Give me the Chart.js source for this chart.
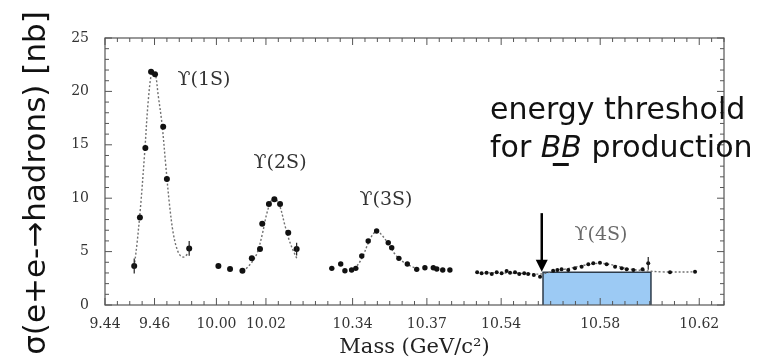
<!DOCTYPE html>
<html>
<head>
<meta charset="utf-8">
<script src="https://cdn.jsdelivr.net/npm/chart.js@4.4.1/dist/chart.umd.min.js"></script>
<style>
html,body{margin:0;padding:0;background:#fff;}
</style>
</head>
<body>
<canvas id="c" width="769" height="362"></canvas>
<script>
// measured points (mass in GeV, sigma in nb)
const mass1S  = [9.4518, 9.4541, 9.4563, 9.4586, 9.4602, 9.4635, 9.4650, 9.4740];
const sigma1S = [3.65, 8.2, 14.7, 21.85, 21.6, 16.7, 11.8, 5.3];
const err1S   = [0.7, 0, 0, 0, 0, 0, 0, 0.7];

const mass2S  = [10.0008, 10.0055, 10.0105, 10.0143, 10.0176, 10.0185, 10.0212, 10.0234, 10.0257, 10.0290, 10.0324];
const sigma2S = [3.65, 3.37, 3.2, 4.37, 5.24, 7.6, 9.46, 9.9, 9.46, 6.77, 5.24];
const err2S   = [0, 0, 0, 0, 0, 0, 0, 0, 0, 0, 0.6];

const mass3S  = [10.3316, 10.3352, 10.3369, 10.3396, 10.3413, 10.3437, 10.3463, 10.3497, 10.3544, 10.3558,
                 10.3587, 10.3621, 10.3659, 10.3692, 10.3726, 10.3740, 10.3764, 10.3793];
const sigma3S = [3.43, 3.84, 3.2, 3.28, 3.43, 4.59, 5.99, 6.93, 5.83, 5.37,
                 4.37, 3.84, 3.34, 3.49, 3.49, 3.37, 3.28, 3.28];

const mass4S  = [10.5303, 10.5321, 10.5341, 10.5362, 10.5382, 10.5402, 10.5422, 10.5436, 10.5456, 10.5473,
                 10.5493, 10.5509, 10.5532, 10.5557, 10.5610, 10.5627, 10.5644, 10.5671, 10.5698, 10.5725,
                 10.5752, 10.5772, 10.5799, 10.5826, 10.5860, 10.5887, 10.5907, 10.5934, 10.5971, 10.5994,
                 10.6082, 10.6183];
const sigma4S = [3.06, 2.97, 3.02, 2.90, 3.06, 2.97, 3.18, 3.02, 3.06, 2.90,
                 2.97, 2.90, 2.81, 2.65, 3.21, 3.28, 3.34, 3.28, 3.43, 3.59,
                 3.81, 3.90, 3.96, 3.81, 3.59, 3.43, 3.34, 3.28, 3.34, 3.90,
                 3.06, 3.12];
const err4S   = sigma4S.map((v,i)=> i===29 ? 0.6 : 0);

// dashed fit curves
const fitMass1S  = [9.4518, 9.4530, 9.4545, 9.4560, 9.4575, 9.4590, 9.4602, 9.4615, 9.4630, 9.4645, 9.4660, 9.4675, 9.4690, 9.4705, 9.4720, 9.4738];
const fitSigma1S = [3.6, 5.9, 9.6, 14.2, 19.2, 21.9, 21.8, 19.6, 17.0, 13.2, 9.5, 6.8, 5.3, 4.6, 4.5, 4.9];
const fitMass2S  = [10.0120, 10.0143, 10.0165, 10.0185, 10.0205, 10.0225, 10.0240, 10.0257, 10.0275, 10.0292, 10.0310, 10.0326];
const fitSigma2S = [3.4, 4.0, 4.9, 6.6, 8.7, 9.9, 9.9, 9.2, 7.6, 6.2, 5.1, 4.3];
const fitMass3S  = [10.3390, 10.3415, 10.3440, 10.3465, 10.3485, 10.3500, 10.3520, 10.3545, 10.3570, 10.3595, 10.3620, 10.3650];
const fitSigma3S = [3.3, 3.6, 4.5, 5.9, 6.7, 6.9, 6.5, 5.7, 4.8, 4.2, 3.8, 3.5];
const fitMass4S  = [10.5300, 10.5400, 10.5500, 10.5560, 10.5620, 10.5680, 10.5740, 10.5790, 10.5840, 10.5900, 10.5960, 10.6050, 10.6190];
const fitSigma4S = [3.0, 3.0, 2.95, 2.9, 3.2, 3.45, 3.75, 3.9, 3.8, 3.45, 3.25, 3.1, 3.1];

// BB threshold box
const boxMass  = [10.5569, 10.6005];
const boxSigma = 3.06;
const thresholdMass = 10.5564;

// axis
const tickMass   = [9.44, 9.46, 10.00, 10.02, 10.34, 10.37, 10.54, 10.58, 10.62];
const tickLabels = ["9.44", "9.46", "10.00", "10.02", "10.34", "10.37", "10.54", "10.58", "10.62"];
const peakLabels = ["\u03D2(1S)", "\u03D2(2S)", "\u03D2(3S)", "\u03D2(4S)"];
const peakMass   = [9.480, 10.0257, 10.3535, 10.5803];
const peakSigma  = [21.1, 13.3, 9.8, 6.55];

// broken mass axis: each segment keeps its own origin
const SEG_START  = [9.44, 10.00, 10.34, 10.54];
const SEG_OFFSET = [0, 0.045, 0.100, 0.160];
function axisPos(m){
  const k = m < 9.8 ? 0 : m < 10.2 ? 1 : m < 10.45 ? 2 : 3;
  return m - SEG_START[k] + SEG_OFFSET[k];
}
const pts = (ms, vs) => ms.map((m,i)=>({x:axisPos(m), y:vs[i]}));

const pointSet = (ms, vs, errs, r) => ({
  data: pts(ms, vs), errs: errs, showLine:false,
  pointRadius:r, pointBackgroundColor:"#111", pointBorderWidth:0, order:0
});
const fitSet = (ms, vs) => ({
  data: pts(ms, vs), showLine:true, pointRadius:0, borderColor:"#707070",
  borderWidth:1.4, borderDash:[2,2], tension:0.35, order:5
});

const overlay = {
  id:"overlay",
  afterDatasetsDraw(chart){
    const {ctx, chartArea:a, scales:{x, y}} = chart;
    ctx.save();
    // error bars
    chart.data.datasets.forEach(ds=>{
      if(!ds.errs) return;
      ds.data.forEach((p,i)=>{
        const e = ds.errs[i];
        if(!e) return;
        const px = x.getPixelForValue(p.x);
        ctx.strokeStyle = "#222"; ctx.lineWidth = 1.2;
        ctx.beginPath();
        ctx.moveTo(px, y.getPixelForValue(p.y - e));
        ctx.lineTo(px, y.getPixelForValue(p.y + e));
        ctx.stroke();
      });
    });
    // frame
    ctx.strokeStyle = "#555"; ctx.lineWidth = 1.2;
    ctx.strokeRect(a.left, a.top, a.right - a.left, a.bottom - a.top);
    // inward ticks
    ctx.lineWidth = 1;
    const majors = tickMass.map(m=>Math.round(axisPos(m)*1000));
    for(let k=0;k<=50;k++){
      const v = k*0.005;
      const px = x.getPixelForValue(v);
      const len = majors.includes(Math.round(v*1000)) ? 7 : 4;
      ctx.beginPath();
      ctx.moveTo(px, a.bottom); ctx.lineTo(px, a.bottom - len);
      ctx.moveTo(px, a.top); ctx.lineTo(px, a.top + len);
      ctx.stroke();
    }
    for(let v=0; v<=25; v++){
      const py = y.getPixelForValue(v);
      const len = v % 5 === 0 ? 7 : 4;
      ctx.beginPath();
      ctx.moveTo(a.left, py); ctx.lineTo(a.left + len, py);
      ctx.moveTo(a.right, py); ctx.lineTo(a.right - len, py);
      ctx.stroke();
    }
    // peak labels
    ctx.font = '19px "DejaVu Serif"';
    ctx.textAlign = "center"; ctx.textBaseline = "middle";
    peakLabels.forEach((t,i)=>{
      ctx.fillStyle = i === 3 ? "#6a6a6a" : "#333";
      ctx.fillText(t, x.getPixelForValue(axisPos(peakMass[i])), y.getPixelForValue(peakSigma[i]));
    });
    // threshold arrow
    const ax = x.getPixelForValue(axisPos(thresholdMass));
    const y0 = y.getPixelForValue(8.6), y1 = y.getPixelForValue(boxSigma + 0.05);
    ctx.strokeStyle = "#000"; ctx.fillStyle = "#000"; ctx.lineWidth = 2.5;
    ctx.beginPath(); ctx.moveTo(ax, y0); ctx.lineTo(ax, y1 - 10); ctx.stroke();
    ctx.beginPath(); ctx.moveTo(ax - 6, y1 - 12); ctx.lineTo(ax + 6, y1 - 12); ctx.lineTo(ax, y1); ctx.closePath(); ctx.fill();
    // annotation text
    ctx.textAlign = "left"; ctx.textBaseline = "alphabetic"; ctx.fillStyle = "#111";
    ctx.font = '30px "DejaVu Sans"';
    ctx.fillText("energy threshold", 490, 119);
    let tx = 490;
    ctx.fillText("for ", tx, 157); tx += ctx.measureText("for ").width;
    ctx.font = 'italic 30px "DejaVu Sans"';
    ctx.fillText("BB", tx, 157);
    ctx.fillRect(tx + 12, 163, 16, 3);
    tx += ctx.measureText("BB").width;
    ctx.font = '30px "DejaVu Sans"';
    ctx.fillText(" production", tx, 157);
    // y title
    ctx.save();
    ctx.translate(37, 183); ctx.rotate(-Math.PI/2);
    ctx.textAlign = "center"; ctx.textBaseline = "middle";
    ctx.font = '31px "DejaVu Sans"'; ctx.fillStyle = "#111";
    ctx.fillText("\u03C3(e+e-\u2192hadrons) [nb]", 0, 0);
    ctx.restore();
    ctx.restore();
  }
};

new Chart(document.getElementById("c"), {
  type:"scatter",
  data:{
    datasets:[
      {
        data:[{x:axisPos(boxMass[0]),y:0},{x:axisPos(boxMass[0]),y:boxSigma},
              {x:axisPos(boxMass[1]),y:boxSigma},{x:axisPos(boxMass[1]),y:0}],
        showLine:true, fill:"origin", backgroundColor:"#9ccaf4",
        borderColor:"#2d3b4a", borderWidth:1.5, pointRadius:0, tension:0, order:10
      },
      fitSet(fitMass1S, fitSigma1S),
      fitSet(fitMass2S, fitSigma2S),
      fitSet(fitMass3S, fitSigma3S),
      fitSet(fitMass4S, fitSigma4S),
      pointSet(mass1S, sigma1S, err1S, 3.0),
      pointSet(mass2S, sigma2S, err2S, 3.0),
      pointSet(mass3S, sigma3S, null, 2.7),
      pointSet(mass4S, sigma4S, err4S, 2.0)
    ]
  },
  options:{
    responsive:false,
    animation:false,
    devicePixelRatio:1,
    layout:{padding:{top:38, right:45, bottom:0, left:0}},
    plugins:{legend:{display:false}, tooltip:{enabled:false}},
    scales:{
      x:{
        type:"linear", min:0, max:0.25,
        afterBuildTicks:s=>{ s.ticks = tickMass.map(m=>({value:axisPos(m)})); },
        afterFit:s=>{ s.height = 57; },
        grid:{display:false}, border:{display:false},
        ticks:{autoSkip:false, maxRotation:0, padding:3, color:"#333",
               font:{family:"DejaVu Serif", size:14},
               callback:(v,i)=>tickLabels[i]},
        title:{display:true, text:"Mass (GeV/c\u00B2)", color:"#222",
               font:{family:"DejaVu Serif", size:21}, padding:{top:0, bottom:2}}
      },
      y:{
        min:0, max:25,
        afterFit:s=>{ s.width = 105; },
        grid:{display:false}, border:{display:false},
        ticks:{stepSize:5, padding:8, color:"#333", font:{family:"DejaVu Serif", size:14}}
      }
    }
  },
  plugins:[overlay]
});
</script>
</body>
</html>
